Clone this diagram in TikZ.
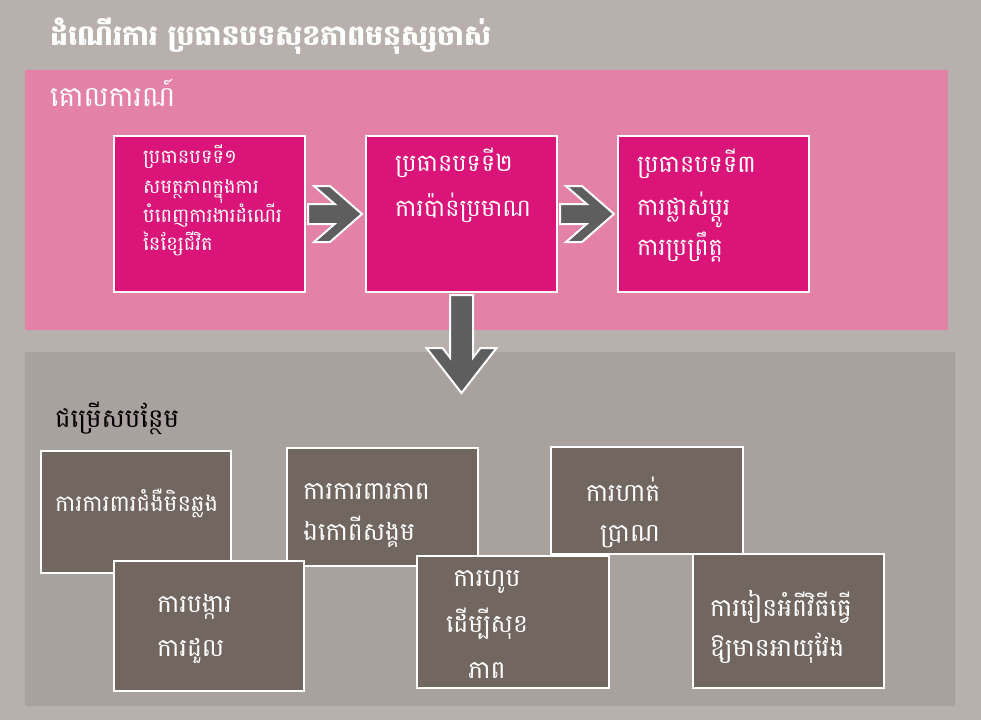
\documentclass[tikz,border=0pt]{standalone}
\usepackage{fontspec}
\newfontfamily\kh[Script=Khmer]{Battambang}
\usetikzlibrary{calc}
\definecolor{bgc}{HTML}{B8B0AD}
\definecolor{pinkp}{HTML}{E381A6}
\definecolor{mag}{HTML}{DA1479}
\definecolor{grayp}{HTML}{A9A19E}
\definecolor{brn}{HTML}{726661}
\definecolor{arr}{HTML}{5E5E5E}
\begin{document}
\begin{tikzpicture}[x=1pt,y=-1pt,
  panel/.style={inner sep=0, outer sep=0, anchor=north west},
  mbox/.style={draw=white, line width=2pt, fill=mag, inner sep=0, anchor=north west, minimum width=191pt, minimum height=156pt},
  bbox/.style={draw=white, line width=2pt, fill=brn, inner sep=0, anchor=north west},
  ln/.style={inner sep=0, anchor=base west, text=white},
  lnc/.style={inner sep=0, anchor=base, text=white},
  fa/.style={font=\kh\fontsize{19.4}{22}\selectfont},
  fb/.style={font=\kh\fontsize{24}{28}\selectfont},
  fc/.style={font=\kh\fontsize{25}{28}\selectfont},
  chev/.style={fill=arr, draw=white, line width=2pt, line join=miter}]
\useasboundingbox (0,0) rectangle (981,720);
\fill[bgc] (0,0) rectangle (981,720);
\node[panel, fill=pinkp, minimum width=923pt, minimum height=260pt] (pk) at (25,70) {};
\node[panel, fill=grayp, minimum width=930pt, minimum height=354pt] (gp) at (25,352) {};
\node[ln, font=\kh\bfseries\fontsize{28.3}{32}\selectfont] (title) at (50,45) {ដំណើរការ ប្រធានបទសុខភាពមនុស្សចាស់};
\node[ln, font=\kh\fontsize{28}{32}\selectfont] (pklab) at (50,106) {គោលការណ៍};
\node[ln, text=black, font=\kh\fontsize{26}{30}\selectfont] (gplab) at (55,427) {ជម្រើសបន្ថែម};
% principle boxes
\node[mbox] (b1) at (113,135) {};
\node[mbox] (b2) at (365,135) {};
\node[mbox] (b3) at (617,135) {};
\node[ln, fa] (b1a) at (143,163) {ប្រធានបទទី១};
\node[ln, fa] (b1b) at (143,193) {សមត្ថភាពក្នុងការ};
\node[ln, fa] (b1c) at (143,222) {បំពេញការងារដំណើរ};
\node[ln, fa] (b1d) at (143,250) {នៃខ្សែជីវិត};
\node[ln, fb] (b2a) at (395,171) {ប្រធានបទទី២};
\node[ln, fb] (b2b) at (395,216) {ការប៉ាន់ប្រមាណ};
\node[ln, fb] (b3a) at (637,172) {ប្រធានបទទី៣};
\node[ln, fb] (b3b) at (637,215) {ការផ្លាស់ប្តូរ};
\node[ln, fb] (b3c) at (637,255) {ការប្រព្រឹត្ត};
% arrows
\begin{scope}[shift={(b1.east)}]
  \draw[chev] (2,-10) -- (28.6,-10) -- (8,-28) -- (24,-28) -- (56,0) -- (24,28) -- (8,28) -- (28.6,10) -- (2,10) -- cycle;
\end{scope}
\begin{scope}[shift={(b2.east)}]
  \draw[chev] (2,-10) -- (28.6,-10) -- (8,-28) -- (24,-28) -- (56,0) -- (24,28) -- (8,28) -- (28.6,10) -- (2,10) -- cycle;
\end{scope}
\begin{scope}[shift={(b2.south)}]
  \draw[chev] (-11.5,2) -- (-11.5,64.6) -- (-19,55) -- (-35,55) -- (0,100) -- (35,55) -- (19,55) -- (11.5,64.6) -- (11.5,2) -- cycle;
\end{scope}
% option boxes
\node[bbox, minimum width=190pt, minimum height=122pt] (oa) at (40,450) {};
\node[bbox, minimum width=191pt, minimum height=118pt] (oc) at (286,447) {};
\node[bbox, minimum width=192pt, minimum height=107pt] (oe) at (550,446) {};
\node[bbox, minimum width=190pt, minimum height=130pt] (ob) at (113,560) {};
\node[bbox, minimum width=192pt, minimum height=132pt] (od) at (416,555) {};
\node[bbox, minimum width=191pt, minimum height=134pt] (of) at (692,553) {};
\node[ln, font=\kh\fontsize{22.8}{26}\selectfont] (oa1) at (55,511) {ការការពារជំងឺមិនឆ្លង};
\node[ln, fc] (ob1) at (157,612) {ការបង្ការ};
\node[ln, fc] (ob2) at (157,656) {ការដួល};
\node[ln, fc] (oc1) at (303,499) {ការការពារភាព};
\node[ln, fc] (oc2) at (303,540) {ឯកោពីសង្គម};
\node[lnc, fc] (od1) at (487,586) {ការហូប};
\node[lnc, fc] (od2) at (487,632) {ដើម្បីសុខ};
\node[lnc, fc] (od3) at (487,678) {ភាព};
\node[lnc, fc] (oe1) at (623,501) {ការហាត់};
\node[lnc, fc] (oe2) at (630,541) {ប្រាណ};
\node[ln, fc] (of1) at (710,616) {ការរៀនអំពីវិធីធ្វើ};
\node[ln, fc] (of2) at (710,656) {ឱ្យមានអាយុវែង};
\end{tikzpicture}
\end{document}
